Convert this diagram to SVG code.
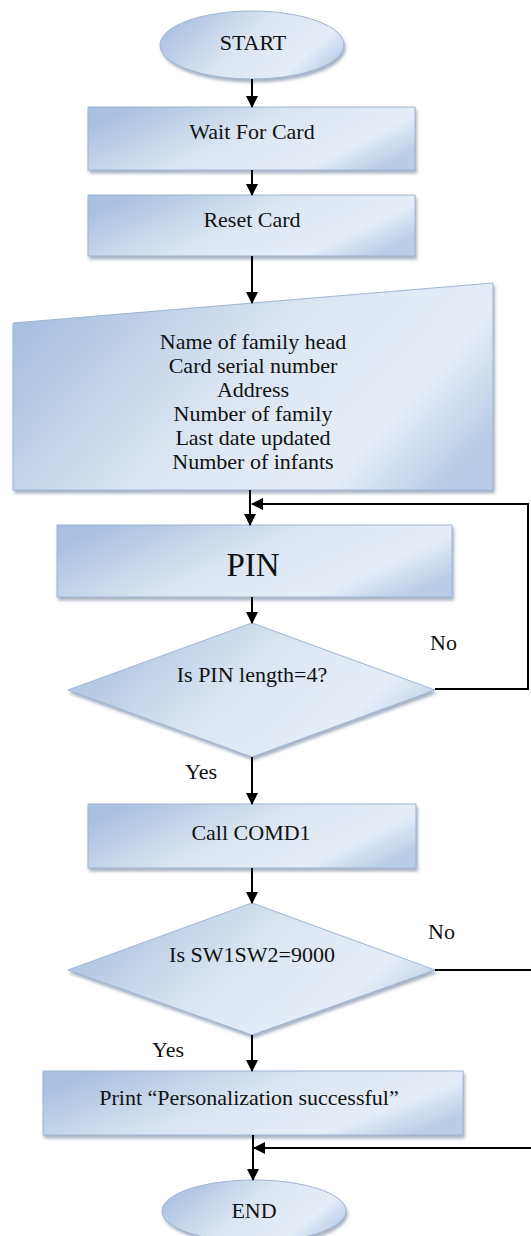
<svg xmlns="http://www.w3.org/2000/svg" width="531" height="1236" viewBox="0 0 531 1236">
<defs>
<linearGradient id="g" x1="0" y1="0.3" x2="1" y2="0.7">
<stop offset="0" stop-color="#a9c0e1"/>
<stop offset="0.45" stop-color="#dbe5f2"/>
<stop offset="0.8" stop-color="#e6edf7"/>
<stop offset="1" stop-color="#b9cde8"/>
</linearGradient>
<linearGradient id="gd" x1="0" y1="0" x2="0" y2="1">
<stop offset="0" stop-color="#c2d3ea"/>
<stop offset="0.6" stop-color="#dce6f3"/>
<stop offset="1" stop-color="#e8eef7"/>
</linearGradient>
<filter id="sh" x="-10%" y="-10%" width="125%" height="140%">
<feDropShadow dx="1.5" dy="3" stdDeviation="1.5" flood-color="#6f809c" flood-opacity="0.6"/>
</filter>
<marker id="ah" markerWidth="12" markerHeight="12" viewBox="0 0 12 12" refX="11" refY="6" orient="auto" markerUnits="userSpaceOnUse">
<path d="M0,0 L12,6 L0,12 Z" fill="#000"/>
</marker>
</defs>
<style>
.n{fill:url(#g);stroke:#9fb4d3;stroke-width:1;filter:url(#sh)}
.d{fill:url(#gd);stroke:#a9bdd9;stroke-width:1}
.t{font-family:"Liberation Serif","Times New Roman",serif;font-size:22px;fill:#111;text-anchor:middle}
.l{font-family:"Liberation Serif","Times New Roman",serif;font-size:22px;fill:#111}
.c{fill:none;stroke:#000;stroke-width:2}
</style>
<rect width="531" height="1236" fill="#fff"/>
<g id="start"><ellipse class="n" cx="252" cy="45" rx="92" ry="34"/><text class="t" x="253" y="50">START</text></g>
<g id="wait"><rect class="n" x="88" y="107" width="327" height="63"/><text class="t" x="252" y="139">Wait For Card</text></g>
<g id="reset"><rect class="n" x="88" y="195" width="327" height="61"/><text class="t" x="252" y="227">Reset Card</text></g>
<g id="input"><polygon class="n" points="13,323 493,283 493,490 13,490"/>
<text class="t" x="253" y="349">Name of family head</text>
<text class="t" x="253" y="373">Card serial number</text>
<text class="t" x="253" y="397">Address</text>
<text class="t" x="253" y="421">Number of family</text>
<text class="t" x="253" y="445">Last date updated</text>
<text class="t" x="253" y="469">Number of infants</text></g>
<g id="pin"><rect class="n" x="57" y="525" width="395" height="72"/><text class="t" x="253" y="576" style="font-size:33px">PIN</text></g>
<g id="dec1"><polygon class="n" points="252,623 435,690 252,757 68,690"/><text class="t" x="252" y="682">Is PIN length=4?</text></g>
<g id="call"><rect class="n" x="88" y="804" width="328" height="64"/><text class="t" x="251" y="840">Call COMD1</text></g>
<g id="dec2"><polygon class="n" points="252,903 435,970 252,1035 68,970"/><text class="t" x="252" y="962">Is SW1SW2=9000</text></g>
<g id="print"><rect class="n" x="43" y="1071" width="420" height="64"/><text class="t" x="249" y="1105">Print “Personalization successful”</text></g>
<g id="end"><ellipse class="n" cx="254" cy="1211" rx="92" ry="31"/><text class="t" x="254" y="1218">END</text></g>
<g id="labels">
<text class="l" x="430" y="650">No</text>
<text class="l" x="185" y="779">Yes</text>
<text class="l" x="428" y="939">No</text>
<text class="l" x="152" y="1057">Yes</text>
</g>
<g id="connectors">
<line class="c" x1="252" y1="79" x2="252" y2="107" marker-end="url(#ah)"/>
<line class="c" x1="252" y1="170" x2="252" y2="195" marker-end="url(#ah)"/>
<line class="c" x1="252" y1="256" x2="252" y2="303" marker-end="url(#ah)"/>
<line class="c" x1="250" y1="490" x2="250" y2="525" marker-end="url(#ah)"/>
<polyline class="c" points="435,689 528,689 528,504 252,504" marker-end="url(#ah)"/>
<line class="c" x1="252" y1="597" x2="252" y2="623" marker-end="url(#ah)"/>
<line class="c" x1="252" y1="757" x2="252" y2="804" marker-end="url(#ah)"/>
<line class="c" x1="252" y1="868" x2="252" y2="903" marker-end="url(#ah)"/>
<line class="c" x1="435" y1="970" x2="531" y2="970"/>
<line class="c" x1="252" y1="1035" x2="252" y2="1071" marker-end="url(#ah)"/>
<line class="c" x1="253" y1="1135" x2="253" y2="1180" marker-end="url(#ah)"/>
<line class="c" x1="531" y1="1148" x2="254" y2="1148" marker-end="url(#ah)"/>
</g>
</svg>
